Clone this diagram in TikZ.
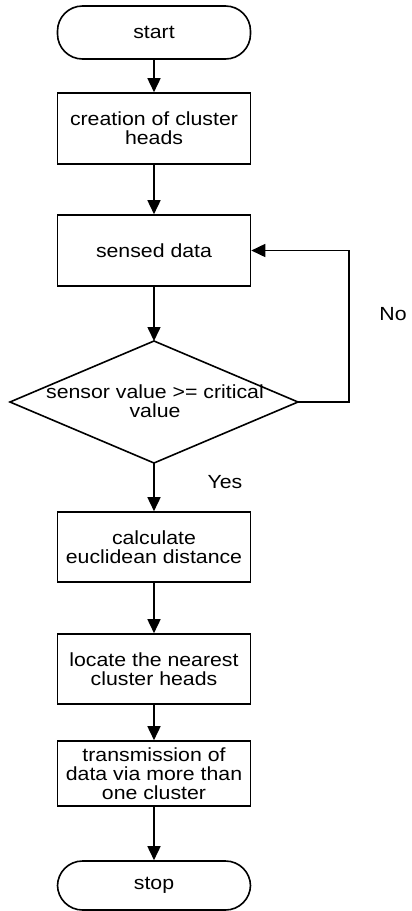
\documentclass[tikz,border=0pt]{standalone}
\usepackage{fontspec}
\setmainfont{Liberation Sans}[FakeStretch=1.12]
\usetikzlibrary{arrows.meta,shapes.geometric}
\tikzset{
  box/.style={draw, line width=1.6pt, minimum width=193pt, inner sep=0pt, align=center,
    font=\fontsize{19}{18.7}\selectfont},
  term/.style={box, rounded corners=25pt},
  arr/.style={line width=1.6pt, -{Triangle[length=14pt,width=13pt]}},
  lbl/.style={inner sep=0pt, font=\fontsize{19}{18.7}\selectfont}
}
\begin{document}
\begin{tikzpicture}[x=1pt,y=1pt]
\useasboundingbox (0,0) rectangle (412,-911);
\node[term, minimum height=53pt] (start) at (154,-32.5) {start};
\node[box, minimum height=71pt] (c1) at (154,-128.5) {creation of cluster\\heads};
\node[box, minimum height=71pt] (s) at (154,-250.5) {sensed data};
\node[draw, diamond, line width=1.6pt, minimum width=288pt, minimum height=122pt,
      shape aspect=2.36, inner sep=0pt, outer sep=0pt] (d) at (154,-402) {};
\node[lbl, align=center] (dt) at (155,-401) {sensor value >= critical\\value};
\node[box, minimum height=70pt] (c3) at (154,-547) {calculate\\euclidean distance};
\node[box, minimum height=70pt] (c4) at (154,-669) {locate the nearest\\cluster heads};
\node[box, minimum height=65pt] (c5) at (154,-773.5) {transmission of\\data via more than\\one cluster};
\node[term, minimum height=49pt] (stop) at (154,-885.5) {stop};
\node[lbl] (no) at (393,-314) {No};
\node[lbl] (yes) at (225,-482) {Yes};
\coordinate (lp) at (349,-250.5);
\draw[arr] (start) -- (c1);
\draw[arr] (c1) -- (s);
\draw[arr] (s) -- (d.north);
\draw[arr] (d.east) -| (lp) -- (s.east);
\draw[arr] (d.south) -- (c3);
\draw[arr] (c3) -- (c4);
\draw[arr] (c4) -- (c5);
\draw[arr] (c5) -- (stop);
\end{tikzpicture}
\end{document}
